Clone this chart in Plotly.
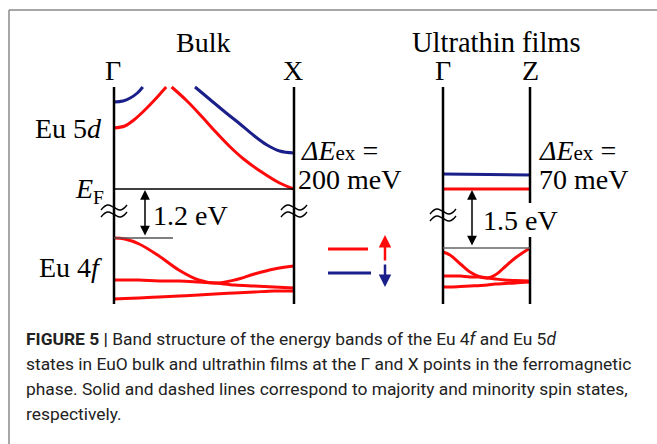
import plotly.graph_objects as go

# ---------------- data (schematic levels) ----------------
# k runs 0 (Gamma) -> 1 (X or Z); level = vertical screen level of the band
bulk_5d_up_k1 = [0.0, 0.06, 0.11, 0.16, 0.22, 0.27, 0.29]
bulk_5d_up_E1 = [128, 126, 120, 112, 101, 91, 87]
bulk_5d_up_k2 = [0.32, 0.40, 0.48, 0.56, 0.64, 0.72, 0.82, 0.92, 1.0]
bulk_5d_up_E2 = [87, 100, 115, 131, 146, 159, 172, 183, 189]
bulk_5d_dn_k1 = [0.0, 0.05, 0.09, 0.13, 0.16]
bulk_5d_dn_E1 = [102, 101, 98, 93, 87]
bulk_5d_dn_k2 = [0.45, 0.53, 0.61, 0.70, 0.78, 0.85, 0.92, 1.0]
bulk_5d_dn_E2 = [87, 99, 111, 124, 136, 145, 151, 153]
bulk_4f_k = [0.0, 0.06, 0.14, 0.25, 0.36, 0.47, 0.56, 0.67, 0.78, 0.89, 1.0]
bulk_4f_a = [238, 239, 244, 256, 270, 280, 283, 280, 274, 269, 266]
bulk_4f_b = [280, 280, 280, 281, 281, 282, 283, 285, 286, 287, 288]
bulk_4f_c = [299, 298.5, 298, 297, 296, 295, 294, 293, 292, 291, 291]

film_5d_k = [0.0, 1.0]
film_5d_up = [189, 189]
film_5d_dn = [174, 175]
film_4f_k = [0.0, 0.08, 0.2, 0.31, 0.43, 0.51, 0.6, 0.71, 0.83, 1.0]
film_4f_a = [252, 255, 264, 272, 277, 278, 275, 267, 258, 248]
film_4f_b = [276, 276, 276, 277, 277, 278, 279, 280, 280.5, 281]
film_4f_c = [287, 287, 286.5, 286, 285.5, 285, 284, 283.5, 283, 282]

gap_labels = ["1.2 eV", "1.5 eV"]
exch_labels = ["200 meV", "70 meV"]
kpoint_labels = ["Γ", "X", "Γ", "Z"]

RED = "#ff0a0a"
BLUE = "#1a1f8a"
SERIF = "Liberation Serif, Times New Roman, serif"

fig = go.Figure()

def band(k, E, color, axis):
    fig.add_trace(go.Scatter(x=k, y=E, mode="lines", xaxis=axis, yaxis="y",
                             line=dict(color=color, width=3, shape="spline", smoothing=1.0),
                             hoverinfo="skip", showlegend=False))

band(bulk_5d_up_k1, bulk_5d_up_E1, RED, "x")
band(bulk_5d_up_k2, bulk_5d_up_E2, RED, "x")
band(bulk_5d_dn_k1, bulk_5d_dn_E1, BLUE, "x")
band(bulk_5d_dn_k2, bulk_5d_dn_E2, BLUE, "x")
band(bulk_4f_k, bulk_4f_a, RED, "x")
band(bulk_4f_k, bulk_4f_b, RED, "x")
band(bulk_4f_k, bulk_4f_c, RED, "x")

band(film_5d_k, film_5d_dn, BLUE, "x2")
band(film_5d_k, film_5d_up, RED, "x2")
band(film_4f_k, film_4f_a, RED, "x2")
band(film_4f_k, film_4f_b, RED, "x2")
band(film_4f_k, film_4f_c, RED, "x2")

W, H = 657, 444

# axis-break marks (two small waves), drawn on the full-figure axis
WAVE_DX = [-13, -6.5, 0, 6.5, 13]
WAVE_DY = [2.5, -2.5, 0, 2.5, -2.5]
for (bx, by) in [(114, 211), (294, 211), (443, 215)]:
    for off in (-3.5, 3.5):
        fig.add_trace(go.Scatter(x=[bx + d for d in WAVE_DX], y=[by + off + d for d in WAVE_DY],
                                 mode="lines", xaxis="x3", yaxis="y",
                                 line=dict(color="black", width=1.4, shape="spline", smoothing=1.3),
                                 hoverinfo="skip", showlegend=False))

shapes = []
def line(x0, y0, x1, y1, color="black", width=2.5):
    shapes.append(dict(type="line", xref="x3", yref="y", x0=x0, y0=y0, x1=x1, y1=y1,
                       line=dict(color=color, width=width), layer="above"))

# frame
line(9, 10, 9, 444, "#8a8a8a", 1.5)
line(9, 10, 657, 10, "#8a8a8a", 1.5)
# k-point verticals
line(114, 87, 114, 304)
line(294, 87, 294, 304)
line(443, 87, 443, 304)
line(530, 87, 530, 203)
line(530, 237, 530, 304)
# Fermi level and 4f top
line(114, 189, 294, 189, "black", 1.4)
line(114, 238, 173, 238, "#555555", 1.5)
line(443, 248, 530, 248, "#666666", 1.5)
# legend samples
line(328, 249, 368, 249, RED, 3)
line(328, 273, 371, 273, BLUE, 3)

ann = []
def text(x, y, s, size=28, xanchor="center", font=SERIF, color="black"):
    ann.append(dict(xref="x3", yref="y", x=x, y=y, text=s, showarrow=False,
                    xanchor=xanchor, yanchor="middle",
                    font=dict(family=font, size=size, color=color)))

def arrow(x, y0, y1, color="black", width=1.5, both=True, size=1.3):
    ann.append(dict(xref="x3", yref="y", axref="x3", ayref="y", x=x, y=y0, ax=x, ay=y1,
                    text="", showarrow=True, arrowhead=2, arrowsize=size, arrowwidth=width,
                    arrowcolor=color, arrowside="end+start" if both else "end",
                    startarrowhead=2, startarrowsize=size))

text(203, 42, "Bulk")
text(496, 42, "Ultrathin films", size=28.5)
text(113, 70, kpoint_labels[0])
text(293, 70, kpoint_labels[1])
text(443, 70, kpoint_labels[2])
text(530, 70, kpoint_labels[3])
text(104, 128, "Eu 5<i>d</i>", xanchor="right")
text(104, 267, "Eu 4<i>f</i>", xanchor="right")
text(106, 190, "<i>E</i><sub>F</sub>", xanchor="right")
text(299, 150, "<i>ΔE</i><span style='font-size:21px'>ex</span> =", xanchor="left")
text(296, 179, exch_labels[0], xanchor="left")
text(537, 150, "<i>ΔE</i><span style='font-size:21px'>ex</span> =", xanchor="left")
text(537, 179, exch_labels[1], xanchor="left")
text(151, 215, gap_labels[0], xanchor="left")
text(481, 220, gap_labels[1], xanchor="left")

arrow(145, 190, 237)
arrow(472, 190, 247)
arrow(385, 235, 262, RED, 2.5, both=False, size=1.0)
arrow(385, 287, 263, BLUE, 2.5, both=False, size=1.0)

CAP = "Roboto, Liberation Sans, sans-serif"
caption = [
    "<b>FIGURE 5 |</b> Band structure of the energy bands of the Eu 4<i>f</i> and Eu 5<i>d</i>",
    "states in EuO bulk and ultrathin films at the Γ and X points in the ferromagnetic",
    "phase. Solid and dashed lines correspond to majority and minority spin states,",
    "respectively.",
]
for i, s in enumerate(caption):
    ann.append(dict(xref="x3", yref="y", x=24, y=339 + 25 * i, text=s, showarrow=False,
                    xanchor="left", yanchor="middle",
                    font=dict(family=CAP, size=17.4, color="#222222")))

fig.update_layout(
    width=W, height=H, margin=dict(l=0, r=0, t=0, b=0),
    paper_bgcolor="white", plot_bgcolor="rgba(0,0,0,0)",
    xaxis=dict(domain=[104 / W, 304 / W], range=[-10 / 180, 1 + 10 / 180], visible=False, fixedrange=True),
    xaxis2=dict(domain=[433 / W, 540 / W], range=[-10 / 87, 1 + 10 / 87], visible=False, fixedrange=True),
    xaxis3=dict(domain=[0, 1], range=[0, W], visible=False, fixedrange=True),
    yaxis=dict(domain=[0, 1], range=[H, 0], visible=False, fixedrange=True),
    shapes=shapes, annotations=ann, showlegend=False,
)

fig.write_html("out.html")
